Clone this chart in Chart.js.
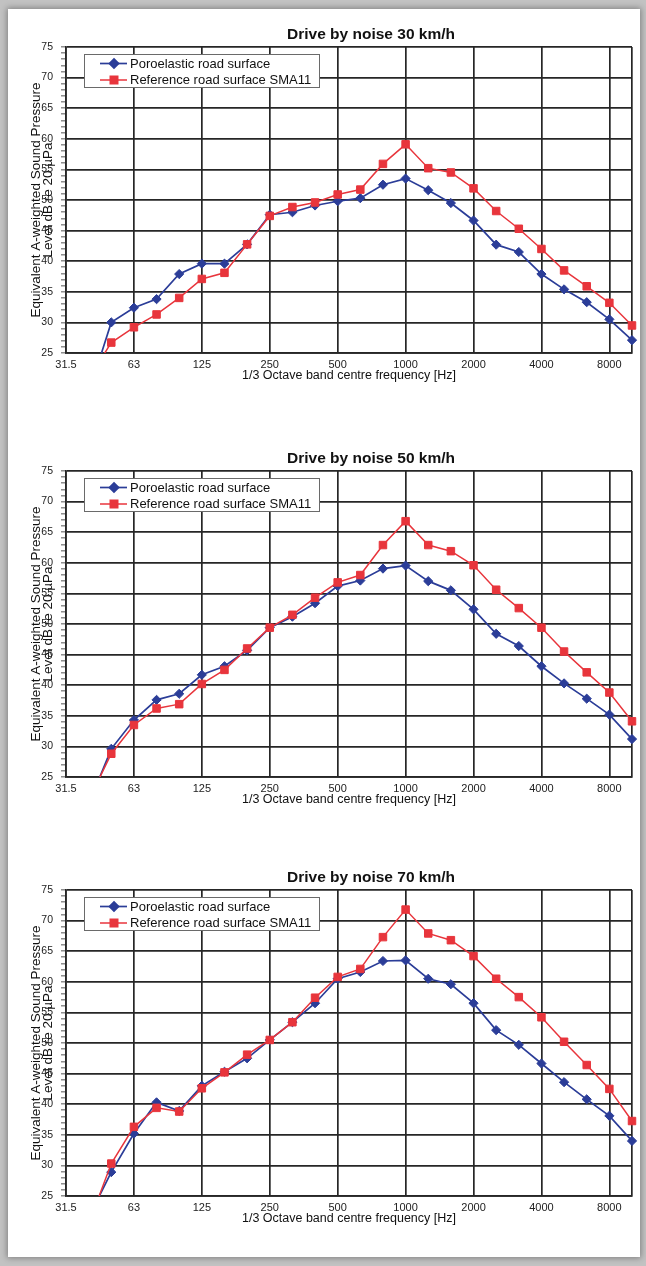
<!DOCTYPE html>
<html><head><meta charset="utf-8">
<script src="https://cdn.jsdelivr.net/npm/chart.js@4.4.0/dist/chart.umd.min.js"></script>
<style>
html,body{margin:0;padding:0;}
body{width:646px;height:1266px;background:#c2c2c2;position:relative;overflow:hidden;font-family:'Liberation Sans',Arial,sans-serif;}
#card{position:absolute;left:8px;top:9px;width:632px;height:1248px;background:#fff;box-shadow:0 0 6px 1px rgba(0,0,0,0.35);}
canvas{position:absolute;left:0;}
</style></head><body>
<div id="card"></div>
<canvas id="c1" width="646" height="399" style="top:0px;width:646px;height:399px"></canvas>
<canvas id="c2" width="646" height="399" style="top:424px;width:646px;height:399px"></canvas>
<canvas id="c3" width="646" height="399" style="top:843px;width:646px;height:399px"></canvas>
<script>
// ---- data ----
const freqLabels = ['31.5','40','50','63','80','100','125','160','200','250','315','400','500','630','800','1000','1250','1600','2000','2500','3150','4000','5000','6300','8000','10000'];
const shownFreqLabels = ['31.5','63','125','250','500','1000','2000','4000','8000'];
const seriesNames = ['Poroelastic road surface','Reference road surface SMA11'];
const chartTitles = ['Drive by noise 30 km/h','Drive by noise 50 km/h','Drive by noise 70 km/h'];

const poro30 = [null,18.4,30.0,32.4,33.8,37.9,39.6,39.6,42.75,47.6,48.0,49.1,49.8,50.3,52.5,53.5,51.6,49.5,46.65,42.7,41.5,37.9,35.4,33.3,30.5,27.1];
const ref30  = [null,20.8,26.7,29.2,31.3,34.0,37.1,38.1,42.75,47.4,48.85,49.6,50.9,51.7,55.9,59.1,55.2,54.5,51.9,48.2,45.3,42.0,38.5,35.9,33.2,29.5];
const poro50 = [null,20.5,29.6,34.3,37.6,38.6,41.7,43.1,45.7,49.4,51.2,53.4,56.2,57.1,59.05,59.55,57.0,55.5,52.4,48.4,46.4,43.1,40.3,37.8,35.2,31.2];
const ref50  = [null,21.2,28.8,33.5,36.2,36.9,40.2,42.5,46.0,49.4,51.5,54.3,56.8,58.0,62.9,66.8,62.9,61.9,59.6,55.6,52.6,49.4,45.5,42.1,38.8,34.1];
const poro70 = [null,21.5,28.9,35.2,40.3,38.9,43.0,45.3,47.5,50.5,53.4,56.5,60.5,61.6,63.4,63.5,60.5,59.6,56.5,52.1,49.7,46.65,43.6,40.8,38.1,34.0];
const ref70  = [null,20.4,30.3,36.3,39.4,38.8,42.6,45.2,48.1,50.5,53.4,57.4,60.8,62.1,67.3,71.8,67.9,66.8,64.2,60.5,57.5,54.2,50.2,46.4,42.5,37.25];

const yMin = 25, yMax = 75;
const yTitle = ['Equivalent A-weighted Sound Pressure','Level dB re 20 \u00B5Pa'];
const xTitle = '1/3 Octave band centre frequency [Hz]';

// ---- styles ----
const BLUE = '#2b3d98', RED = '#e8353c', GRID = '#262626';
const FONT = "'Liberation Sans', Arial, Helvetica, sans-serif";

const decor = {
  id: 'decor',
  afterDraw(chart, args, opts) {
    const ctx = chart.ctx, a = chart.chartArea;
    ctx.save();
    // title
    ctx.fillStyle = '#111';
    ctx.font = 'bold 15.5px ' + FONT;
    ctx.textAlign = 'center';
    ctx.textBaseline = 'middle';
    ctx.fillText(opts.title, a.left + 305, a.top - 12.5);
    // legend
    const bx = a.left + 18, by = a.top + 7, bw = 235, bh = 33;
    ctx.fillStyle = '#fff';
    ctx.fillRect(bx, by, bw, bh);
    ctx.strokeStyle = '#6a6a6a';
    ctx.lineWidth = 1;
    ctx.strokeRect(bx + 0.5, by + 0.5, bw, bh);
    ctx.font = '13px ' + FONT;
    ctx.textAlign = 'left';
    chart.data.datasets.forEach((ds, i) => {
      const y = by + 9.5 + i * 16.5;
      ctx.strokeStyle = ds.borderColor;
      ctx.lineWidth = ds.borderWidth;
      ctx.beginPath();
      ctx.moveTo(bx + 16, y); ctx.lineTo(bx + 43, y);
      ctx.stroke();
      ctx.fillStyle = ds.pointBackgroundColor;
      ctx.strokeStyle = ds.pointBorderColor;
      Chart.helpers.drawPoint(ctx, {pointStyle: ds.pointStyle, radius: ds.pointRadius, borderWidth: 1, rotation: 0}, bx + 30, y);
      ctx.fillStyle = '#111';
      ctx.fillText(ds.label, bx + 46, y + 0.5);
    });
    ctx.restore();
  }
};

function makeChart(id, title, poro, ref) {
  new Chart(document.getElementById(id), {
    type: 'line',
    data: {
      labels: freqLabels,
      datasets: [
        {label: seriesNames[0], data: poro, borderColor: BLUE, backgroundColor: BLUE,
         pointBackgroundColor: BLUE, pointBorderColor: BLUE, borderWidth: 1.7,
         pointStyle: 'rectRot', pointRadius: 4.6, pointBorderWidth: 1, order: 1, tension: 0, spanGaps: false},
        {label: seriesNames[1], data: ref, borderColor: RED, backgroundColor: RED,
         pointBackgroundColor: RED, pointBorderColor: RED, borderWidth: 1.5,
         pointStyle: 'rect', pointRadius: 5.3, pointBorderWidth: 1, order: 0, tension: 0, spanGaps: false}
      ]
    },
    plugins: [decor],
    options: {
      responsive: false,
      animation: false,
      devicePixelRatio: 1,
      layout: {padding: {top: 47, left: 0, right: 14, bottom: 0}},
      plugins: {
        legend: {display: false},
        tooltip: {enabled: false},
        title: {display: false},
        decor: {title: title}
      },
      scales: {
        x: {
          type: 'category',
          offset: false,
          afterFit: s => { s.height = 46; },
          grid: {
            color: c => (shownFreqLabels.includes(freqLabels[c.index]) || c.index === freqLabels.length - 1) ? GRID : 'rgba(0,0,0,0)',
            lineWidth: 1.7,
            drawTicks: false
          },
          border: {display: true, color: GRID, width: 1.7},
          ticks: {
            autoSkip: false, maxRotation: 0, minRotation: 0, padding: 5,
            color: '#222', font: {family: FONT, size: 11},
            callback: (v, i) => shownFreqLabels.includes(freqLabels[i]) ? freqLabels[i] : ''
          },
          title: {display: true, text: xTitle, color: '#111',
                  font: {family: FONT, size: 12.5, lineHeight: 1.2}, padding: {top: 0, bottom: 15.5}}
        },
        y: {
          type: 'linear', min: yMin, max: yMax,
          afterFit: s => { s.width = 66; },
          grid: {
            color: c => (c.tick && c.tick.value % 5 === 0) ? GRID : 'rgba(0,0,0,0)',
            lineWidth: 1.7,
            drawTicks: true, tickLength: 5, tickColor: '#555', tickWidth: 1
          },
          border: {display: true, color: GRID, width: 1.7},
          ticks: {
            stepSize: 1, autoSkip: false, padding: 8,
            color: '#222', font: {family: FONT, size: 10.5},
            callback: v => (v % 5 === 0) ? String(v) : ''
          },
          title: {display: true, text: yTitle, color: '#111',
                  font: {family: FONT, size: 13.5, lineHeight: 0.9}, padding: {top: 30.5, bottom: 0}}
        }
      }
    }
  });
}

makeChart('c1', chartTitles[0], poro30, ref30);
makeChart('c2', chartTitles[1], poro50, ref50);
makeChart('c3', chartTitles[2], poro70, ref70);
</script>
</body></html>
